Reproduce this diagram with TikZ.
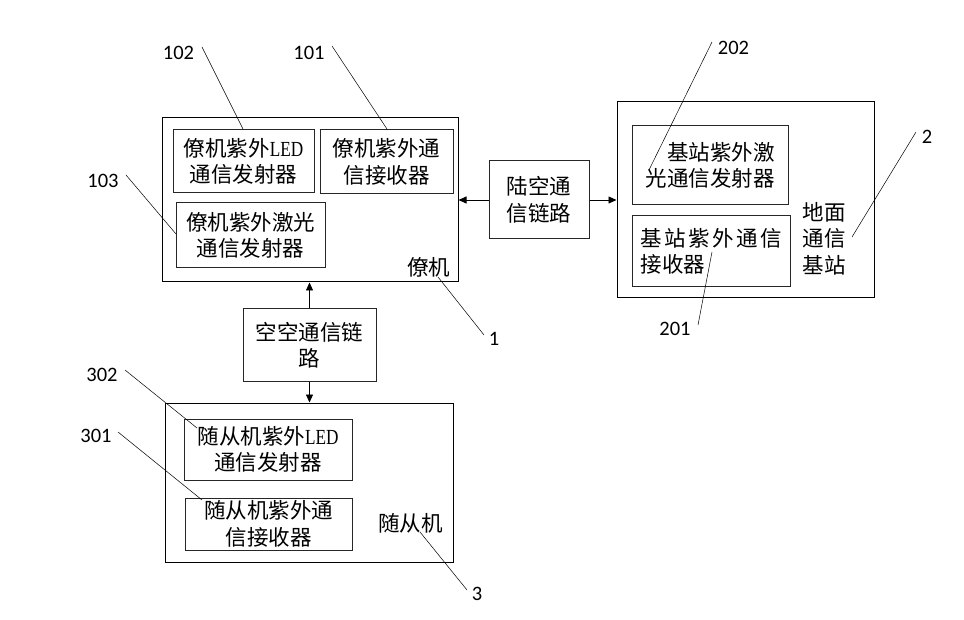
\documentclass[tikz,border=0pt]{standalone}
\usepackage{fontspec}
\setmainfont{Liberation Serif}
\newfontfamily\cjk{Noto Sans CJK SC}
\newfontfamily\numfont{Carlito}
\newfontfamily\ledfont[FakeStretch=0.8]{Liberation Serif}
\usetikzlibrary{arrows.meta}
\newcommand{\led}{{\ledfont\fontsize{21.5}{26.5}\selectfont LED}}
\tikzset{
  outerbox/.style={draw, line width=1pt, inner sep=0pt},
  innerbox/.style={draw=black!85, line width=1pt, inner sep=0pt, font=\cjk\fontsize{21.5}{26.5}\selectfont, align=center},
  tag/.style={font=\cjk\fontsize{21.5}{26.5}\selectfont, align=center, inner sep=0pt},
  num/.style={font=\numfont\fontsize{20.5}{24}\selectfont, inner sep=0pt},
  lead/.style={line width=0.5pt},
  link/.style={line width=0.8pt, -{Triangle[length=8pt,width=7pt]}}
}
\begin{document}
\begin{tikzpicture}[x=1pt,y=-1pt]
    \useasboundingbox (0,0) rectangle (964,620);

    \node[outerbox, minimum width=296pt, minimum height=164pt] (lead1) at (310,200) {};
    \node[innerbox, minimum width=141pt, minimum height=63pt] (ledtx1) at (243.5,161.5) {僚机紫外\led\\通信发射器};
    \node[innerbox, minimum width=133pt, minimum height=64pt] (rx1) at (386.5,162) {僚机紫外通\\信接收器};
    \node[innerbox, minimum width=149pt, minimum height=65pt] (lasertx1) at (250.5,235.5) {僚机紫外激光\\通信发射器};
    \node[tag] (lead1name) at (428.5,267) {僚机};

    \node[innerbox, minimum width=100pt, minimum height=78pt] (landlink) at (539,200) {陆空通\\信链路};

    \node[outerbox, minimum width=257pt, minimum height=196pt] (base) at (745.5,200) {};
    \node[innerbox, minimum width=156pt, minimum height=79pt, align=right] (lasertx2) at (710,165.5) {基站紫外激\\光通信发射器};
    \node[innerbox, minimum width=158pt, minimum height=71pt, align=left] (rx2) at (711,251.5) {基\kern2.4pt 站\kern2.4pt 紫\kern2.4pt 外\kern2.4pt 通\kern2.4pt 信\\接收器};
    \node[tag] (basename) at (824,238.5) {地面\\通信\\基站};

    \node[innerbox, minimum width=133pt, minimum height=72pt] (airlink) at (309.5,345) {空空通信链\\路};

    \node[outerbox, minimum width=288pt, minimum height=159pt] (foll) at (309,482.5) {};
    \node[innerbox, minimum width=168pt, minimum height=61pt] (ledtx3) at (268,449.5) {随从机紫外\led\\通信发射器};
    \node[innerbox, minimum width=167pt, minimum height=52pt] (rx3) at (268.5,524) {随从机紫外通\\信接收器};
    \node[tag] (follname) at (410.5,523) {随从机};

    \draw[link] (landlink.west) -- (landlink.west -| lead1.east);
    \draw[link] (landlink.east) -- (landlink.east -| base.west);
    \draw[link] (airlink.north) -- (airlink.north |- lead1.south);
    \draw[link] (airlink.south) -- (airlink.south |- foll.north);

    \node[num] (n102) at (178.5,53) {102};
    \node[num] (n101) at (309,53) {101};
    \node[num] (n103) at (103,181) {103};
    \node[num] (n1) at (494,339) {1};
    \node[num] (n202) at (733.5,48) {202};
    \node[num] (n201) at (675,329) {201};
    \node[num] (n2) at (927,137) {2};
    \node[num] (n302) at (102,375) {302};
    \node[num] (n301) at (96,436) {301};
    \node[num] (n3) at (477,594) {3};

    \coordinate (a102) at (202,47);  \coordinate (b102) at (243,129);
    \coordinate (a101) at (332,46);  \coordinate (b101) at (387,129);
    \coordinate (a103) at (126,175); \coordinate (b103) at (176,234);
    \coordinate (a1) at (484,335);   \coordinate (b1) at (438,277);
    \coordinate (a202) at (712,42);  \coordinate (b202) at (649,170);
    \coordinate (a201) at (698,325); \coordinate (b201) at (712,252);
    \coordinate (a2) at (916,132);   \coordinate (b2) at (852,237);
    \coordinate (a302) at (125,370); \coordinate (b302) at (197,428);
    \coordinate (a301) at (118,432); \coordinate (b301) at (202,500);
    \coordinate (a3) at (467,590);   \coordinate (b3) at (420,532);

    \foreach \k in {102,101,103,1,202,201,2,302,301,3}
        \draw[lead] (a\k) -- (b\k);
\end{tikzpicture}
\end{document}
